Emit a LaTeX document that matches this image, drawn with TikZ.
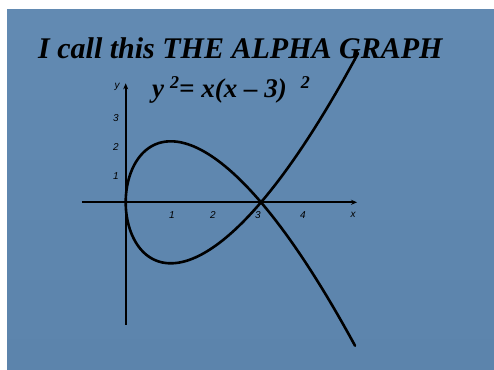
\documentclass[tikz,border=0pt]{standalone}
\usepackage{fontspec}
\setmainfont{Liberation Serif}
\newfontfamily\ticksans{Liberation Sans}
\usetikzlibrary{arrows.meta}

\definecolor{slidetop}{RGB}{98,138,178}
\definecolor{slidemid}{RGB}{138,170,204}
\definecolor{slidebot}{RGB}{92,132,172}

\newcommand{\supsq}{\raisebox{9pt}{\fontsize{18}{18}\selectfont 2}}

\begin{document}
\begin{tikzpicture}[x=1pt, y=-1pt,
  every node/.style={inner sep=0pt},
  curve/.style={line width=2.6pt, line join=round, line cap=round},
  axis/.style={line width=1.8pt, -{Stealth[length=6pt,width=5pt]}},
  ticklabel/.style={font=\ticksans\fontsize{10}{10}\selectfont\itshape}]

  \useasboundingbox (0,0) rectangle (494,369);
  \fill[white] (0,0) rectangle (494,369);

  % slide background
  \shade[top color=slidetop, middle color=slidemid, bottom color=slidebot]
    (7,10) rectangle (494,369);

  % Title and equation
  \node[anchor=base west, font=\fontsize{30}{30}\selectfont\bfseries\itshape]
    (title) at (38,58) {I call this THE ALPHA GRAPH};
  \node[anchor=base west, font=\fontsize{27}{27}\selectfont\bfseries\itshape]
    (eqn) at (152,97) {y\hspace{6pt}\supsq= x(x -- 3)\hspace{14pt}\supsq};

  % Graph: origin at (125.7,202.3), 1 unit = 45.1 x 30.5
  \begin{scope}[shift={(125.7,202.3)}, x=45.1pt, y=30.5pt]
    \coordinate (xleft) at (-0.97,0);
    \coordinate (xright) at (5.13,0);
    \coordinate (ybottom) at (0,-4.02);
    \coordinate (ytop) at (0,3.9);
    \draw[axis] (xleft) -- (xright);
    \draw[axis] (ybottom) -- (ytop);

    % y^2 = x(x-3)^2 with x = t^2, y = t(t^2-3)
    \draw[curve, domain=-2.255:2.27, samples=160, variable=\t]
      plot ({\t*\t}, {\t*(\t*\t-3)});
  \end{scope}

  % Tick labels
  \foreach \n/\px in {1/172, 2/213, 3/258, 4/303}
    \node[ticklabel] (xtick\n) at (\px,215) {\n};
  \foreach \n/\py in {1/176, 2/147, 3/118}
    \node[ticklabel] (ytick\n) at (116,\py) {\n};
  \node[ticklabel] (xname) at (353,215) {x};
  \node[ticklabel] (yname) at (117,87) {y};

\end{tikzpicture}
\end{document}
